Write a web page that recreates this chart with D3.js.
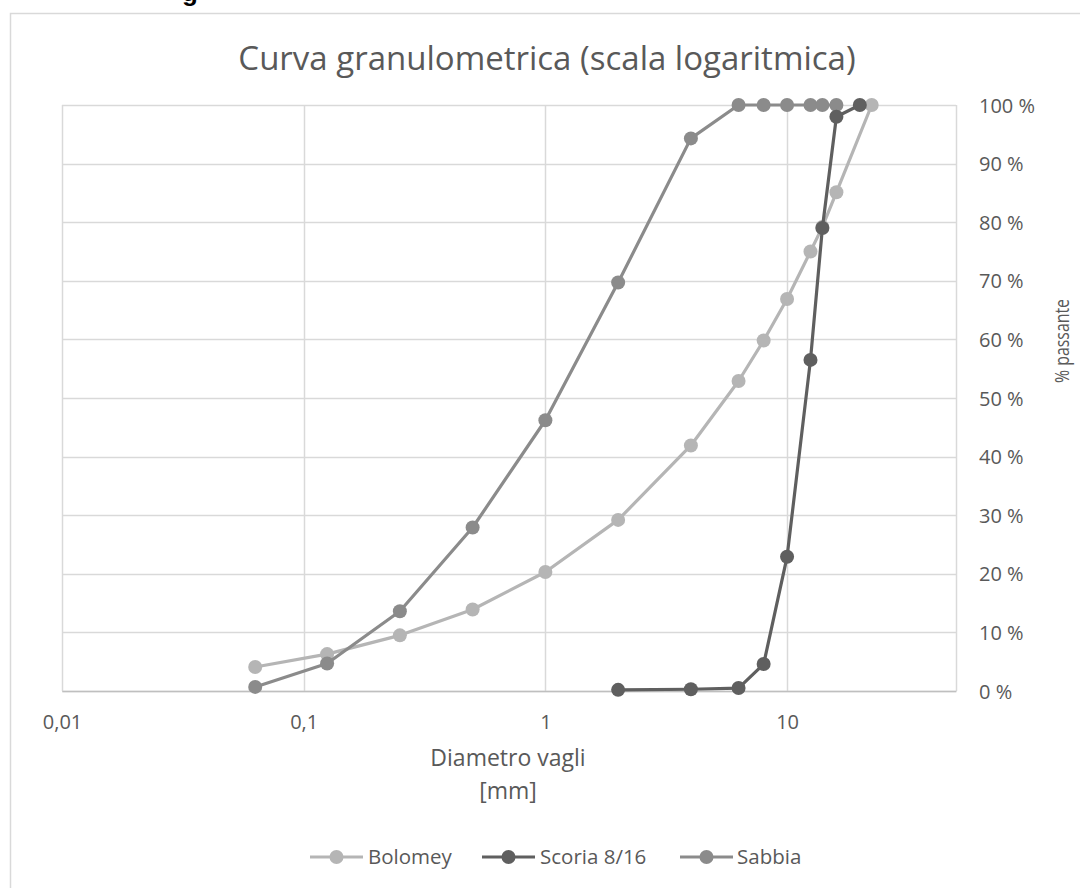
<!DOCTYPE html>
<html>
<head>
<meta charset="utf-8">
<script src="https://cdn.jsdelivr.net/npm/d3@7"></script>
<style>
  html, body { margin: 0; padding: 0; background: #fff; }
  svg { display: block; font-family: "Open Sans", "Noto Sans", sans-serif; }
</style>
</head>
<body>
<svg id="chart" width="1080" height="888"></svg>
<script>
// ---- data ----
const seriesNames = ["Bolomey", "Scoria 8/16", "Sabbia"];
const bolomeyX = [0.063, 0.125, 0.25, 0.5, 1, 2, 4, 6.3, 8, 10, 12.5, 14, 16, 22.4];
const bolomeyY = [4.1, 6.3, 9.5, 13.9, 20.3, 29.2, 41.9, 52.9, 59.8, 66.9, 75, 79.2, 85.1, 100];
const scoriaX = [2, 4, 6.3, 8, 10, 12.5, 14, 16, 20];
const scoriaY = [0.2, 0.3, 0.5, 4.6, 22.9, 56.5, 79, 98, 100];
const sabbiaX = [0.063, 0.125, 0.25, 0.5, 1, 2, 4, 6.3, 8, 10, 12.5, 14, 16];
const sabbiaY = [0.7, 4.7, 13.6, 27.9, 46.2, 69.7, 94.3, 100, 100, 100, 100, 100, 100];
const xTickValues = [0.01, 0.1, 1, 10];
const xTickLabels = ["0,01", "0,1", "1", "10"];
const yTickValues = [0, 10, 20, 30, 40, 50, 60, 70, 80, 90, 100];
const titleText = "Curva granulometrica (scala logaritmica)";
const xTitleLines = ["Diametro vagli", "[mm]"];
const yTitleText = "% passante";

// ---- layout ----
const svg = d3.select("#chart");
const plot = { left: 62, right: 956, top: 105, bottom: 691 };
const colors = { "Bolomey": "#b5b5b5", "Scoria 8/16": "#5f5f5f", "Sabbia": "#8b8b8b" };
const textColor = "#595959";
const gridColor = "#d9d9d9";

// outer chart frame
svg.append("rect")
  .attr("x", 10.5).attr("y", 13.5)
  .attr("width", 1100).attr("height", 900)
  .attr("fill", "none").attr("stroke", gridColor).attr("stroke-width", 1.5);

// cropped heading fragment above the chart
svg.append("text")
  .attr("x", 182).attr("y", 1)
  .attr("font-family", "Liberation Sans, Arial, sans-serif")
  .attr("font-weight", "bold").attr("font-size", 26)
  .attr("fill", "#000").text("g");

const x = d3.scaleLog().domain([0.01, 50]).range([plot.left, plot.right]);
const y = d3.scaleLinear().domain([0, 100]).range([plot.bottom, plot.top]);

// gridlines
const grid = svg.append("g");
grid.selectAll("line.h").data(yTickValues).join("line")
  .attr("x1", plot.left).attr("x2", plot.right)
  .attr("y1", d => Math.round(y(d)) + 0.5).attr("y2", d => Math.round(y(d)) + 0.5)
  .attr("stroke", gridColor).attr("stroke-width", 1.5);
grid.selectAll("line.v").data(xTickValues.concat([50])).join("line")
  .attr("y1", plot.top).attr("y2", plot.bottom)
  .attr("x1", d => Math.round(x(d)) + 0.5).attr("x2", d => Math.round(x(d)) + 0.5)
  .attr("stroke", gridColor).attr("stroke-width", 1.5);

// x axis (labels only)
const xAxis = d3.axisBottom(x).tickValues(xTickValues)
  .tickFormat((d, i) => xTickLabels[i]).tickSize(0).tickPadding(0);
const gx = svg.append("g").attr("transform", `translate(0,${plot.bottom})`).call(xAxis);
gx.select(".domain").attr("stroke", "#bfbfbf").attr("stroke-width", 1.5);
gx.selectAll("text").attr("fill", textColor).attr("font-size", 20)
  .attr("font-family", "Open Sans, sans-serif")
  .attr("dy", null).attr("y", 38);

// y axis on right
const yAxis = d3.axisRight(y).tickValues(yTickValues)
  .tickFormat(d => d + " %").tickSize(0).tickPadding(0);
const gy = svg.append("g").attr("transform", `translate(${plot.right},0)`).call(yAxis);
gy.select(".domain").remove();
gy.selectAll("text").attr("fill", textColor).attr("font-size", 20)
  .attr("font-family", "Open Sans, sans-serif")
  .attr("x", 23).attr("dy", "0.35em");

// title
svg.append("text")
  .attr("x", 547).attr("y", 70).attr("text-anchor", "middle")
  .attr("font-size", 33).attr("fill", textColor)
  .attr("font-family", "Open Sans, sans-serif")
  .text(titleText);

// x title
svg.append("text")
  .attr("text-anchor", "middle").attr("font-size", 23).attr("fill", textColor)
  .selectAll("tspan").data(xTitleLines).join("tspan")
  .attr("x", 508).attr("y", (d, i) => 766 + i * 33).text(d => d);

// y title
svg.append("text")
  .attr("transform", "translate(1069,341) rotate(-90)")
  .attr("text-anchor", "middle").attr("font-size", 20).attr("fill", textColor)
  .attr("textLength", 84).attr("lengthAdjust", "spacingAndGlyphs")
  .text(yTitleText);

// series
const series = [
  { name: "Bolomey", xs: bolomeyX, ys: bolomeyY },
  { name: "Sabbia", xs: sabbiaX, ys: sabbiaY },
  { name: "Scoria 8/16", xs: scoriaX, ys: scoriaY }
];
const line = d3.line().x(d => x(d[0])).y(d => y(d[1]));
series.forEach(s => {
  const pts = s.xs.map((v, i) => [v, s.ys[i]]);
  const g = svg.append("g");
  g.append("path").datum(pts).attr("d", line)
    .attr("fill", "none").attr("stroke", colors[s.name])
    .attr("stroke-width", 3.2).attr("stroke-linejoin", "round");
  g.selectAll("circle").data(pts).join("circle")
    .attr("cx", d => x(d[0])).attr("cy", d => y(d[1])).attr("r", 7)
    .attr("fill", colors[s.name]);
});

// legend
const legendItems = [
  { name: seriesNames[0], x0: 310, tx: 368 },
  { name: seriesNames[1], x0: 482, tx: 540 },
  { name: seriesNames[2], x0: 680, tx: 737 }
];
const ly = 857;
const lg = svg.append("g");
legendItems.forEach(it => {
  lg.append("line").attr("x1", it.x0).attr("x2", it.x0 + 53)
    .attr("y1", ly).attr("y2", ly)
    .attr("stroke", colors[it.name]).attr("stroke-width", 3.2);
  lg.append("circle").attr("cx", it.x0 + 26.5).attr("cy", ly).attr("r", 7)
    .attr("fill", colors[it.name]);
  lg.append("text").attr("x", it.tx).attr("y", ly).attr("dy", "0.35em")
    .attr("font-size", 20.5).attr("fill", textColor).text(it.name);
});
</script>
</body>
</html>
